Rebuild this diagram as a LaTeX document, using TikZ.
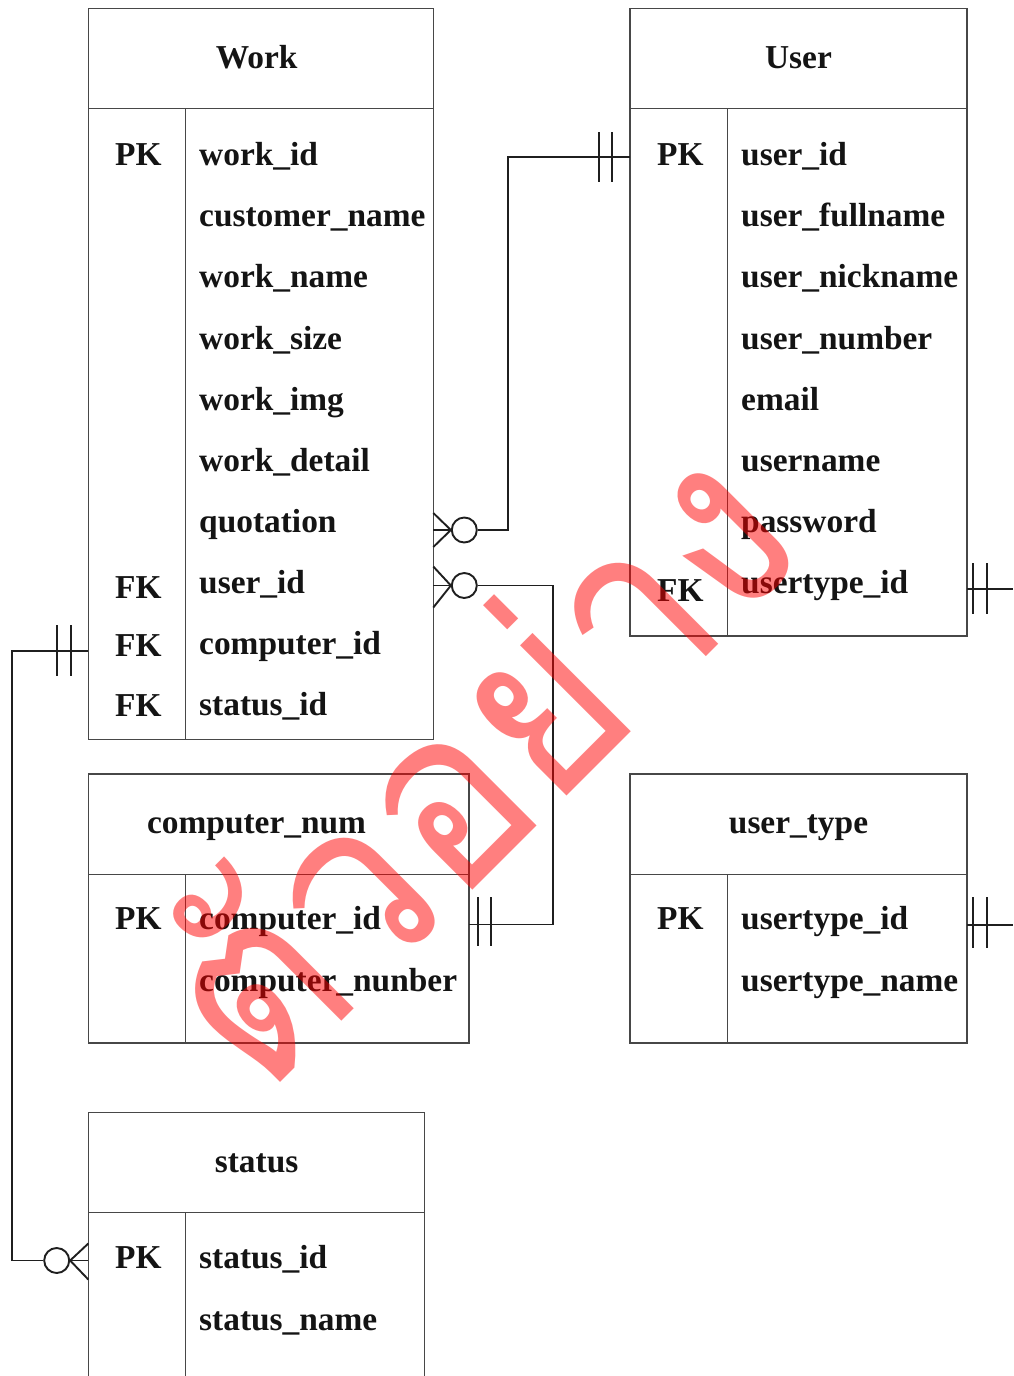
\documentclass[tikz,border=0pt]{standalone}
\usepackage{fontspec}
\setmainfont{Liberation Serif}
\newfontfamily\thaifont[Script=Thai]{Loma}
\usetikzlibrary{calc}

\newcommand\fieldfont{\fontsize{33.4}{40}\selectfont\bfseries}

\tikzset{
  tbl/.style={draw=black!72, line width=1.4pt},
  link/.style={draw=black!88, line width=1.9pt},
  fld/.style={anchor=base west, inner sep=0pt, font=\fieldfont, text=black!92},
  ttl/.style={anchor=base, inner sep=0pt, font=\fieldfont, text=black!92},
  optcirc/.style={circle, link, minimum size=25pt, inner sep=0pt},
}

\begin{document}
\begin{tikzpicture}[x=1pt, y=-1pt]
\useasboundingbox (0,0) rectangle (1013,1376);
\clip (0,0) rectangle (1013,1376);
\fill[white] (0,0) rectangle (1013,1376);

% ---------- Work ----------
\draw[tbl] (88.3,8.3) rectangle (433.3,739.3);
\draw[tbl] (88.3,108.3) -- (433.3,108.3);
\draw[tbl] (185.3,108.3) -- (185.3,739.3);
\node[ttl] (work-title) at (256.6,68.3) {Work};
\foreach \f [count=\i from 0] in {work\_id, customer\_name, work\_name, work\_size, work\_img, work\_detail, quotation, user\_id, computer\_id, status\_id}
  \node[fld] (work-\i) at (199,165.7+61.1*\i) {\f};
\node[fld] (work-pk)  at (115,165.7) {PK};
\node[fld] (work-fk1) at (115,598.3) {FK};
\node[fld] (work-fk2) at (115,656.5) {FK};
\node[fld] (work-fk3) at (115,716.7) {FK};

% ---------- User ----------
\draw[tbl] (630,8.3) rectangle (967,636);
\draw[tbl] (630,108.3) -- (967,108.3);
\draw[tbl] (727.3,108.3) -- (727.3,636);
\node[ttl] (user-title) at (798.5,68.3) {User};
\foreach \f [count=\i from 0] in {user\_id, user\_fullname, user\_nickname, user\_number, email, username, password, usertype\_id}
  \node[fld] (user-\i) at (741,165.7+61.1*\i) {\f};
\node[fld] (user-pk) at (657,165.7) {PK};
\node[fld] (user-fk) at (657,601.5) {FK};

% ---------- computer_num ----------
\draw[tbl] (88.3,774) rectangle (469,1043);
\draw[tbl] (88.3,874.3) -- (469,874.3);
\draw[tbl] (185.3,874.3) -- (185.3,1043);
\node[ttl] (comp-title) at (256.6,833.6) {computer\_num};
\node[fld] (comp-pk) at (115,929.6) {PK};
\node[fld] (comp-0) at (199,929.6) {computer\_id};
\node[fld] (comp-1) at (199,991) {computer\_nunber};

% ---------- user_type ----------
\draw[tbl] (630,774) rectangle (967,1043);
\draw[tbl] (630,874.3) -- (967,874.3);
\draw[tbl] (727.3,874.3) -- (727.3,1043);
\node[ttl] (utype-title) at (798.5,833.6) {user\_type};
\node[fld] (utype-pk) at (657,929.6) {PK};
\node[fld] (utype-0) at (741,929.6) {usertype\_id};
\node[fld] (utype-1) at (741,991) {usertype\_name};

% ---------- status (runs past the lower edge) ----------
\draw[tbl] (88.3,1400) -- (88.3,1112.3) -- (424.3,1112.3) -- (424.3,1400);
\draw[tbl] (88.3,1212.3) -- (424.3,1212.3);
\draw[tbl] (185.3,1212.3) -- (185.3,1400);
\node[ttl] (status-title) at (256.6,1172.7) {status};
\node[fld] (status-pk) at (115,1268.3) {PK};
\node[fld] (status-0) at (199,1268.3) {status\_id};
\node[fld] (status-1) at (199,1330) {status\_name};

% ---------- attachment points on the table edges ----------
\coordinate (user-pk-l)   at (630,157.3);
\coordinate (work-quot-r) at (433.3,530);
\coordinate (work-uid-r)  at (433.3,585.5);
\coordinate (comp-pk-r)   at (469,924.5);
\coordinate (work-cid-l)  at (88.3,650.7);
\coordinate (status-pk-l) at (88.3,1260.5);
\coordinate (user-fk-r)   at (967,589);
\coordinate (utype-pk-r)  at (967,925);
\coordinate (east-1)      at (1013,589);
\coordinate (east-2)      at (1013,925);

% ---------- User.user_id  ||---o<  Work.quotation ----------
\node[optcirc] (o1) at (464.3,530) {};
\draw[link] (user-pk-l) -- (508.3,157.3) |- (o1.east);
\draw[link] (o1.west) -- (work-quot-r);
\draw[link] (o1.west) -- ($(work-quot-r)+(0,-17)$);
\draw[link] (o1.west) -- ($(work-quot-r)+(0,17)$);
\draw[link] ($(user-pk-l)+(-31,-25)$) -- ++(0,50);
\draw[link] ($(user-pk-l)+(-17.7,-25)$) -- ++(0,50);

% ---------- Work.user_id  >o---||  computer_num.computer_id ----------
\node[optcirc] (o2) at (464.3,585.5) {};
\draw[link] (o2.east) -- (553.1,585.5) |- (comp-pk-r);
\draw[link] (o2.west) -- (work-uid-r);
\draw[link] (o2.west) -- ($(work-uid-r)+(0,-19)$);
\draw[link] (o2.west) -- ($(work-uid-r)+(0,22)$);
\draw[link] ($(comp-pk-r)+(8.7,-27.5)$) -- ++(0,49);
\draw[link] ($(comp-pk-r)+(21.7,-27.5)$) -- ++(0,49);

% ---------- Work.computer_id  ||---o<  status.status_id ----------
\node[optcirc] (o3) at (56.7,1260.5) {};
\draw[link] (work-cid-l) -- (12,650.7) |- (o3.west);
\draw[link] (o3.east) -- (status-pk-l);
\draw[link] (o3.east) -- ($(status-pk-l)+(0,-17)$);
\draw[link] (o3.east) -- ($(status-pk-l)+(0,19)$);
\draw[link] ($(work-cid-l)+(-31.6,-25.5)$) -- ++(0,50.5);
\draw[link] ($(work-cid-l)+(-17.6,-25.5)$) -- ++(0,50.5);

% ---------- User.usertype_id and user_type.usertype_id ----------
\draw[link] (user-fk-r) -- (east-1);
\draw[link] ($(user-fk-r)+(6.3,-26)$) -- ++(0,51);
\draw[link] ($(user-fk-r)+(20.3,-26)$) -- ++(0,51);
\draw[link] (utype-pk-r) -- (east-2);
\draw[link] ($(utype-pk-r)+(6.3,-28)$) -- ++(0,51);
\draw[link] ($(utype-pk-r)+(20.3,-28)$) -- ++(0,51);

% ---------- watermark ----------
\node[rotate=45, xscale=0.9, anchor=base, inner sep=0pt, text=red, text opacity=0.5,
      font={\thaifont\fontsize{250}{270}\selectfont}] (mark) at (537,826) {ตัวอย่าง};
\end{tikzpicture}
\end{document}
